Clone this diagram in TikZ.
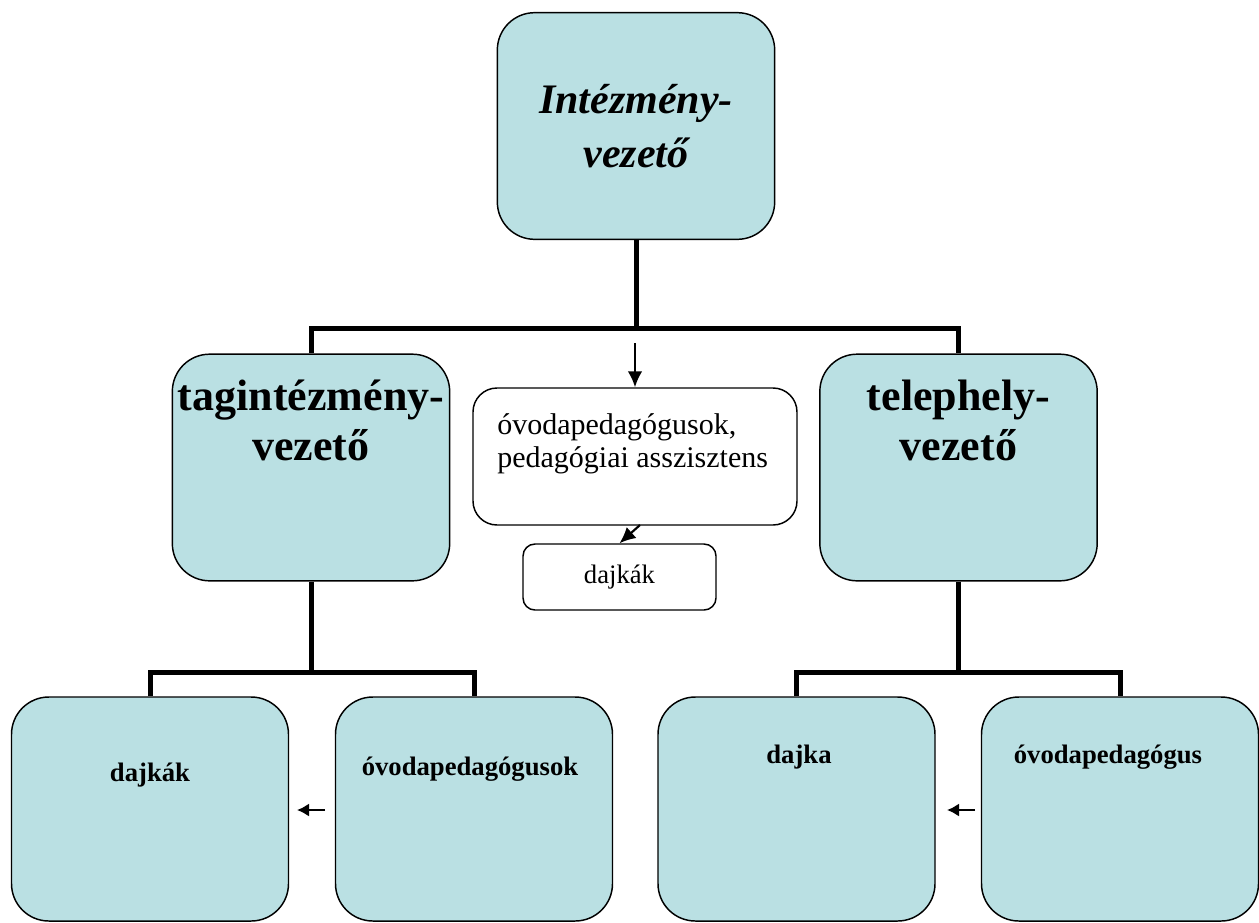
\documentclass[tikz,border=0pt]{standalone}
\usepackage{fontspec}
\setmainfont{Liberation Serif}
\usepackage{xcolor}
\usetikzlibrary{arrows.meta}
\definecolor{boxblue}{RGB}{186,224,227}

\begin{document}
\begin{tikzpicture}[>=Latex, x=0.75pt, y=-0.75pt,
		bluebox/.style={draw, line width=1.1pt, fill=boxblue, rounded corners=28pt, minimum width=208pt, minimum height=170pt, inner sep=0pt},
		whitebox/.style={draw, line width=1.1pt, fill=white, inner sep=0pt},
		trunk/.style={line width=3.75pt},
		thinarrow/.style={-{Latex[length=12pt,width=11pt]}, line width=1.6pt},
		shortarrow/.style={-{Latex[length=9pt,width=10pt]}, line width=2pt},
		bigtext/.style={align=center, font=\fontsize{33}{37.5}\selectfont\bfseries},
		lowtext/.style={font=\fontsize{20}{24}\selectfont\bfseries}]
	\useasboundingbox (0,0) rectangle (1259,922);
	% top level
	\node[bluebox, align=center, font=\fontsize{31.5}{41}\selectfont\bfseries\itshape] (head) at (636,126) {Intézmény-\\vezető};
	% second level
	\node[bluebox] (tag) at (311,467.5) {};
	\node[bluebox] (tel) at (958.5,467.5) {};
	\node[bigtext] (tagtxt) at (311,420) {tagintézmény-\\vezető};
	\node[bigtext] (teltxt) at (958.5,420) {telephely-\\vezető};
	\node[whitebox, rounded corners=18pt, minimum width=243pt, minimum height=102.75pt] (ped) at (635,456.5) {};
	\node[anchor=north west, inner sep=0pt, align=left, font=\fontsize{22.5}{25}\selectfont] (pedtxt) at (497,413) {óvodapedagógusok,\\pedagógiai asszisztens};
	\node[whitebox, rounded corners=9pt, minimum width=144.75pt, minimum height=49.5pt, font=\fontsize{20}{24}\selectfont] (dajk) at (619.5,577) {dajkák};
	% third level
	\node[bluebox, minimum width=207.75pt, minimum height=168pt] (b1) at (150,809) {};
	\node[bluebox, minimum width=207.75pt, minimum height=168pt] (b2) at (474,809) {};
	\node[bluebox, minimum width=207.75pt, minimum height=168pt] (b3) at (796.5,809) {};
	\node[bluebox, minimum width=207.75pt, minimum height=168pt] (b4) at (1120,809) {};
	\node[lowtext] (b1txt) at (150,775) {dajkák};
	\node[lowtext] (b2txt) at (470,769) {óvodapedagógusok};
	\node[lowtext] (b3txt) at (799,757) {dajka};
	\node[lowtext] (b4txt) at (1108,757) {óvodapedagógus};
	% connectors
	\coordinate (bus) at (636,328);
	\coordinate (tagbus) at (311,672);
	\coordinate (telbus) at (958.5,672);
	\draw[trunk] (head.south) -- (bus);
	\draw[trunk] (tag.north) |- (bus) -| (tel.north);
	\draw[trunk] (tag.south) -- (tagbus);
	\draw[trunk] (b1.north) |- (tagbus) -| (b2.north);
	\draw[trunk] (tel.south) -- (telbus);
	\draw[trunk] (b3.north) |- (telbus) -| (b4.north);
	\coordinate (drop) at (635,343);
	\draw[thinarrow] (drop) -- (ped.north);
	\coordinate (pedout) at (640,525);
	\draw[thinarrow] (pedout) -- (dajk.north);
	\coordinate (l1) at (325,810);
	\coordinate (l2) at (297,810);
	\coordinate (r1) at (975,810);
	\coordinate (r2) at (947,810);
	\draw[shortarrow] (l1) -- (l2);
	\draw[shortarrow] (r1) -- (r2);
\end{tikzpicture}
\end{document}
